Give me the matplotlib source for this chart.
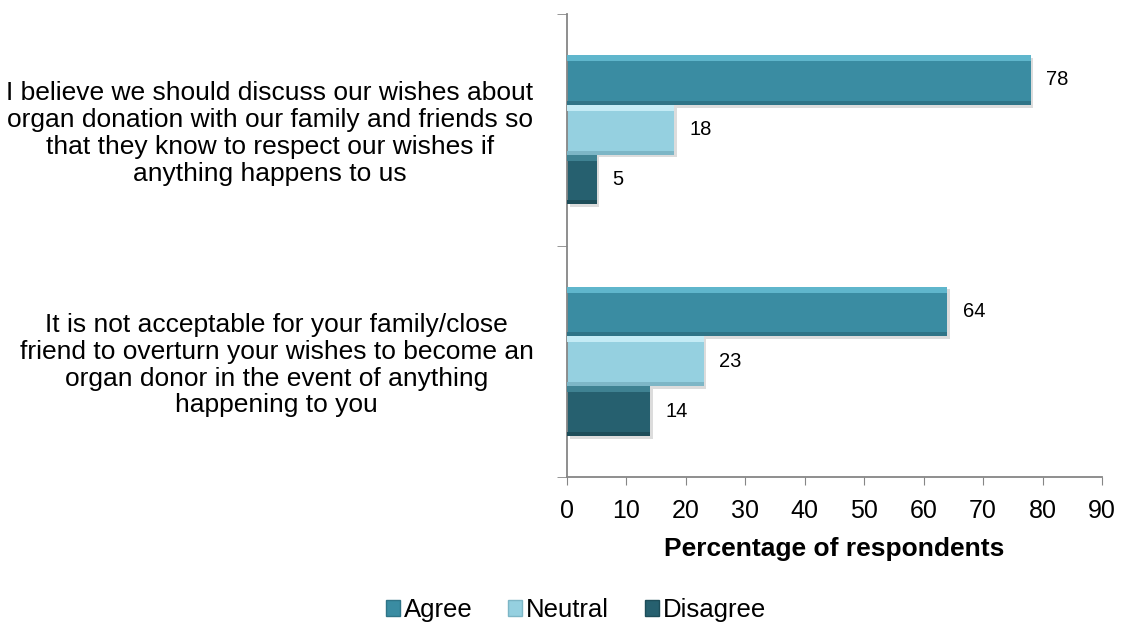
import matplotlib.pyplot as plt
import matplotlib.patheffects as pe
import numpy as np
from matplotlib.patches import Rectangle

plt.rcParams["font.family"] = ["Liberation Sans", "DejaVu Sans"]

# survey statements (top to bottom) and the share answering each way
statements = [
    "I believe we should discuss our wishes about\norgan donation with our family and friends so\nthat they know to respect our wishes if\nanything happens to us",
    "It is not acceptable for your family/close\nfriend to overturn your wishes to become an\norgan donor in the event of anything\nhappening to you",
]
series = ["Agree", "Neutral", "Disagree"]
agree = [78, 64]
neutral = [18, 23]
disagree = [5, 14]

colors = ["#3a8ca2", "#95d0e0", "#26606f"]
highlights = ["#5fb6cc", "#c4ebf5", "#3f8292"]
shades = ["#2f7487", "#7db6c6", "#1d4d59"]

fig = plt.figure(figsize=(11.24, 6.32), dpi=100)
ax = fig.add_axes([0.5044, 0.2453, 0.476, 0.7325])

y = np.arange(len(statements))
h = 0.215
offsets = [-h, 0, h]
shadow = [pe.SimplePatchShadow(offset=(2, -2), alpha=0.25, shadow_rgbFace="#777777"), pe.Normal()]

for vals, off, c, hl, sh in zip([agree, neutral, disagree], offsets, colors, highlights, shades):
    pos = y + off
    ax.barh(pos, vals, height=h, color=c, edgecolor="none", path_effects=shadow, zorder=2)
    # bevel: light top strip, dark bottom strip
    ax.barh(pos - h * 0.44, vals, height=h * 0.12, color=hl, edgecolor="none", zorder=3)
    ax.barh(pos + h * 0.46, vals, height=h * 0.08, color=sh, edgecolor="none", zorder=3)
    for p, v in zip(pos, vals):
        ax.text(v + 2.6, p, str(v), va="center", ha="left", fontsize=14.5, color="black")

ax.set_xlim(0, 90)
ax.set_ylim(1.5, -0.5)
ax.set_xticks(np.arange(0, 91, 10))
ax.tick_params(axis="x", labelsize=18, length=6, color="#868686", pad=10)
ax.set_yticks(y)
ax.set_yticklabels(statements, fontsize=19, multialignment="center", linespacing=1.15)
ax.tick_params(axis="y", length=0, pad=24)
ax.set_yticks([-0.5, 0.5, 1.5], minor=True)
ax.tick_params(axis="y", which="minor", length=7, color="#868686")
ax.set_xlabel("Percentage of respondents", fontsize=19, fontweight="bold", labelpad=10)

for s in ["top", "right"]:
    ax.spines[s].set_visible(False)
for s in ["left", "bottom"]:
    ax.spines[s].set_color("#868686")
    ax.spines[s].set_linewidth(1.3)

handles = [Rectangle((0, 0), 1, 1, facecolor=c, edgecolor=sh, linewidth=1) for c, sh in zip(colors, shades)]
fig.legend(handles, series, loc="center", bbox_to_anchor=(0.5125, 0.035), ncol=3, frameon=False,
           fontsize=18.5, handlelength=0.55, handleheight=0.55, handletextpad=0.15, columnspacing=1.4)

fig.savefig("out.png", dpi=100)
